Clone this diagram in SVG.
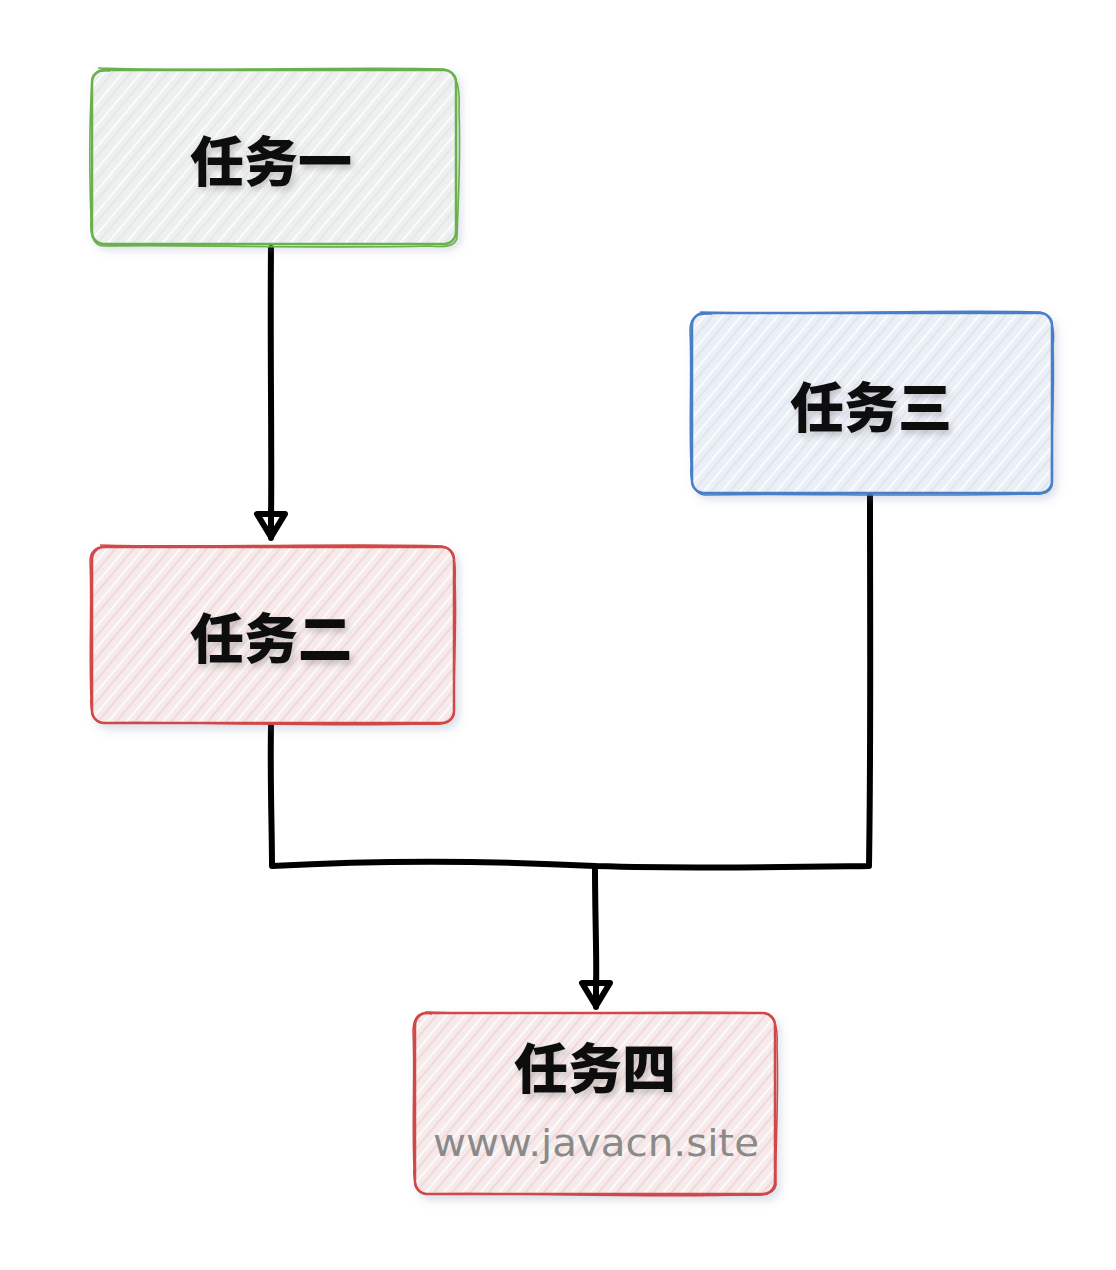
<svg xmlns="http://www.w3.org/2000/svg" width="1116" height="1270" viewBox="0 0 1116 1270">
<defs>
<pattern id="hatchG" patternUnits="userSpaceOnUse" width="14" height="14" patternTransform="rotate(40)">
<rect width="14" height="14" fill="#eef0f0"/>
<line x1="0" y1="0" x2="0" y2="14" stroke="#ffffff" stroke-width="3"/>
<line x1="7" y1="0" x2="7" y2="14" stroke="#dde1e1" stroke-width="1"/>
</pattern>
<pattern id="hatchR" patternUnits="userSpaceOnUse" width="14" height="14" patternTransform="rotate(40)">
<rect width="14" height="14" fill="#f6eaea"/>
<line x1="0" y1="0" x2="0" y2="14" stroke="#ffffff" stroke-width="3"/>
<line x1="7" y1="0" x2="7" y2="14" stroke="#ecc8c8" stroke-width="1"/>
</pattern>
<pattern id="hatchB" patternUnits="userSpaceOnUse" width="14" height="14" patternTransform="rotate(40)">
<rect width="14" height="14" fill="#ebeff6"/>
<line x1="0" y1="0" x2="0" y2="14" stroke="#ffffff" stroke-width="3"/>
<line x1="7" y1="0" x2="7" y2="14" stroke="#d6dde9" stroke-width="1"/>
</pattern>
<filter id="shadow" x="-10%" y="-10%" width="125%" height="130%">
<feDropShadow dx="4" dy="5" stdDeviation="4" flood-color="#7080a0" flood-opacity="0.25"/>
</filter>
<filter id="tshadow" x="-10%" y="-20%" width="130%" height="160%">
<feDropShadow dx="3" dy="4" stdDeviation="3" flood-color="#000" flood-opacity="0.18"/>
</filter>
<marker id="arrow" viewBox="0 0 36 36" refX="32" refY="18" markerWidth="36" markerHeight="36" markerUnits="userSpaceOnUse" orient="auto">
<path d="M8,4 L31,18 L8,32 Z" fill="none" stroke="#000" stroke-width="6" stroke-linejoin="round"/>
</marker>
</defs>
<style>
.label{font-family:"Noto Sans CJK SC","Noto Sans",sans-serif;font-weight:900;font-size:54px;fill:#111;text-anchor:middle}
.wm{font-family:"DejaVu Sans","Liberation Sans",sans-serif;font-size:38px;fill:#8a8a8a;text-anchor:middle}
.edge{fill:none;stroke:#000;stroke-width:6;stroke-linecap:round;stroke-linejoin:round}
.g{stroke:#6ab04c}
.r{stroke:#d04848}
.b{stroke:#4a7fc8}
.box{stroke-width:2.5;filter:url(#shadow)}
.sk{fill:none;stroke-width:1.6}
</style>
<rect width="1116" height="1270" fill="#ffffff"/>

<g id="connectors">
<path class="edge" d="M271,248 C270,350 272,450 271,520"/>
<path class="edge" d="M271,510 L271,538" marker-end="url(#arrow)"/>
<path class="edge" d="M271,726 C270,780 272,830 272,866 C380,860 480,860 595,866 C700,869 800,867 869,866 C871,740 870,620 870,496"/>
<path class="edge" d="M595,866 C595,920 597,960 596,990"/>
<path class="edge" d="M596,980 L596,1007" marker-end="url(#arrow)"/>
</g>

<g id="node1">
<rect class="box g" x="92" y="70" width="364" height="174" rx="12" fill="url(#hatchG)"/>
<path class="sk g" d="M98,68 C200,72 350,66 444,69 C458,72 460,90 459,110 C461,160 458,200 457,238 C455,248 440,247 430,246 C300,249 180,244 104,246 C92,246 90,232 91,220 C89,160 90,110 92,80 C93,72 100,70 110,71"/>
<text class="label" x="271" y="182" filter="url(#tshadow)">任务一</text>
</g>

<g id="node3">
<rect class="box b" x="692" y="313" width="360" height="180" rx="12" fill="url(#hatchB)"/>
<path class="sk b" d="M700,312 C800,315 950,309 1040,312 C1052,314 1055,330 1053,345 C1055,400 1050,450 1052,485 C1050,494 1040,495 1030,494 C900,497 800,493 705,495 C693,494 690,480 691,465 C689,420 692,370 690,330 C690,316 698,313 712,314"/>
<text class="label" x="871" y="428" filter="url(#tshadow)">任务三</text>
</g>

<g id="node2">
<rect class="box r" x="92" y="547" width="362" height="176" rx="12" fill="url(#hatchR)"/>
<path class="sk r" d="M100,545 C200,548 350,543 442,546 C454,548 456,565 455,580 C457,630 453,680 454,714 C452,724 440,725 428,724 C300,727 180,721 104,723 C93,723 90,710 91,698 C89,650 92,600 90,560 C91,548 98,546 112,547"/>
<text class="label" x="271" y="659" filter="url(#tshadow)">任务二</text>
</g>

<g id="node4">
<rect class="box r" x="415" y="1013" width="360" height="181" rx="12" fill="url(#hatchR)"/>
<path class="sk r" d="M425,1012 C520,1016 680,1010 763,1013 C776,1015 778,1030 777,1045 C779,1100 775,1150 776,1185 C774,1195 762,1196 750,1195 C620,1198 520,1192 428,1194 C416,1194 413,1180 414,1168 C412,1120 415,1070 413,1030 C414,1015 420,1011 432,1014"/>
<text class="label" x="595" y="1089" filter="url(#tshadow)">任务四</text>
<text class="wm" x="596" y="1156" textLength="326" lengthAdjust="spacingAndGlyphs">www.javacn.site</text>
</g>
</svg>
